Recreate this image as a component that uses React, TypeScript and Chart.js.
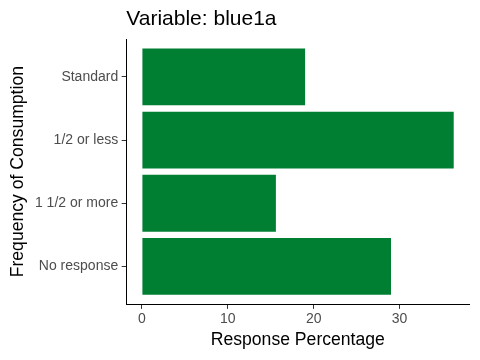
import React, { useEffect, useRef } from "react";
import { Chart, registerables } from "chart.js";

Chart.register(...registerables);

const categories: string[] = ["Standard", "1/2 or less", "1 1/2 or more", "No response"];
const percentages: number[] = [19.0, 36.3, 15.6, 29.0];
const xTickValues: number[] = [0, 10, 20, 30];
const titleText = "Variable: blue1a";
const xTitleText = "Response Percentage";
const yTitleText = "Frequency of Consumption";

const FONT = "'Liberation Sans', Arial, Helvetica, sans-serif";

export default function App() {
  const ref = useRef<HTMLCanvasElement>(null);

  useEffect(() => {
    if (!ref.current) return;
    const maxV = Math.max(...percentages);
    const xMin = -0.05 * maxV;
    const xMax = maxV * 1.05;
    const n = categories.length;

    const chart = new Chart(ref.current, {
      type: "bar",
      data: {
        datasets: [
          {
            data: percentages.map((v, i) => ({ x: v, y: i })),
            backgroundColor: "#007F33",
            borderWidth: 0,
            barPercentage: 0.9,
            categoryPercentage: 1.0,
          },
        ],
      },
      options: {
        indexAxis: "y",
        responsive: false,
        animation: false,
        layout: { padding: { left: 0, right: 10.7, top: 0, bottom: 0 } },
        plugins: {
          legend: { display: false },
          tooltip: { enabled: false },
          title: {
            display: true,
            text: titleText,
            align: "start",
            fullSize: false,
            color: "#000000",
            font: { family: FONT, size: 21, weight: "normal" },
            padding: { top: 6.7, bottom: 7.1 },
          },
        },
        scales: {
          x: {
            type: "linear",
            position: "bottom",
            min: xMin,
            max: xMax,
            offset: false,
            afterBuildTicks: (scale: any) => {
              scale.ticks = xTickValues.map((v) => ({ value: v }));
            },
            afterFit: (scale: any) => {
              scale.height = 55.7;
            },
            grid: {
              display: true,
              offset: false,
              drawOnChartArea: false,
              drawTicks: true,
              tickLength: 4.6,
              tickColor: "#333333",
              tickWidth: 1,
            },
            border: { display: true, color: "#000000", width: 1 },
            ticks: {
              color: "#4D4D4D",
              font: { family: FONT, size: 14 },
              padding: 2,
              maxRotation: 0,
              callback: (v: any) => String(v),
            },
            title: {
              display: true,
              text: xTitleText,
              color: "#000000",
              font: { family: FONT, size: 17.6 },
              padding: { top: 0, bottom: 9.6 },
            },
          },
          y: {
            type: "linear",
            position: "left",
            reverse: true,
            min: -0.6,
            max: n - 1 + 0.6,
            offset: false,
            afterBuildTicks: (scale: any) => {
              scale.ticks = categories.map((_, i) => ({ value: i }));
            },
            afterFit: (scale: any) => {
              scale.width = 126.3;
            },
            grid: {
              display: true,
              offset: false,
              drawOnChartArea: false,
              drawTicks: true,
              tickLength: 4.6,
              tickColor: "#333333",
              tickWidth: 1,
            },
            border: { display: true, color: "#000000", width: 1 },
            ticks: {
              color: "#4D4D4D",
              font: { family: FONT, size: 14 },
              padding: 3.5,
              callback: (v: any) => categories[Math.round(Number(v))] ?? "",
            },
            title: {
              display: true,
              text: yTitleText,
              color: "#000000",
              font: { family: FONT, size: 17.6 },
              padding: { top: 7.2, bottom: 0 },
            },
          },
        },
      },
    } as any);

    return () => chart.destroy();
  }, []);

  return (
    <div
      style={{
        position: "fixed",
        left: 0,
        top: 0,
        width: 480,
        height: 360,
        background: "#ffffff",
      }}
    >
      <canvas ref={ref} width={480} height={360} style={{ display: "block" }} />
    </div>
  );
}
